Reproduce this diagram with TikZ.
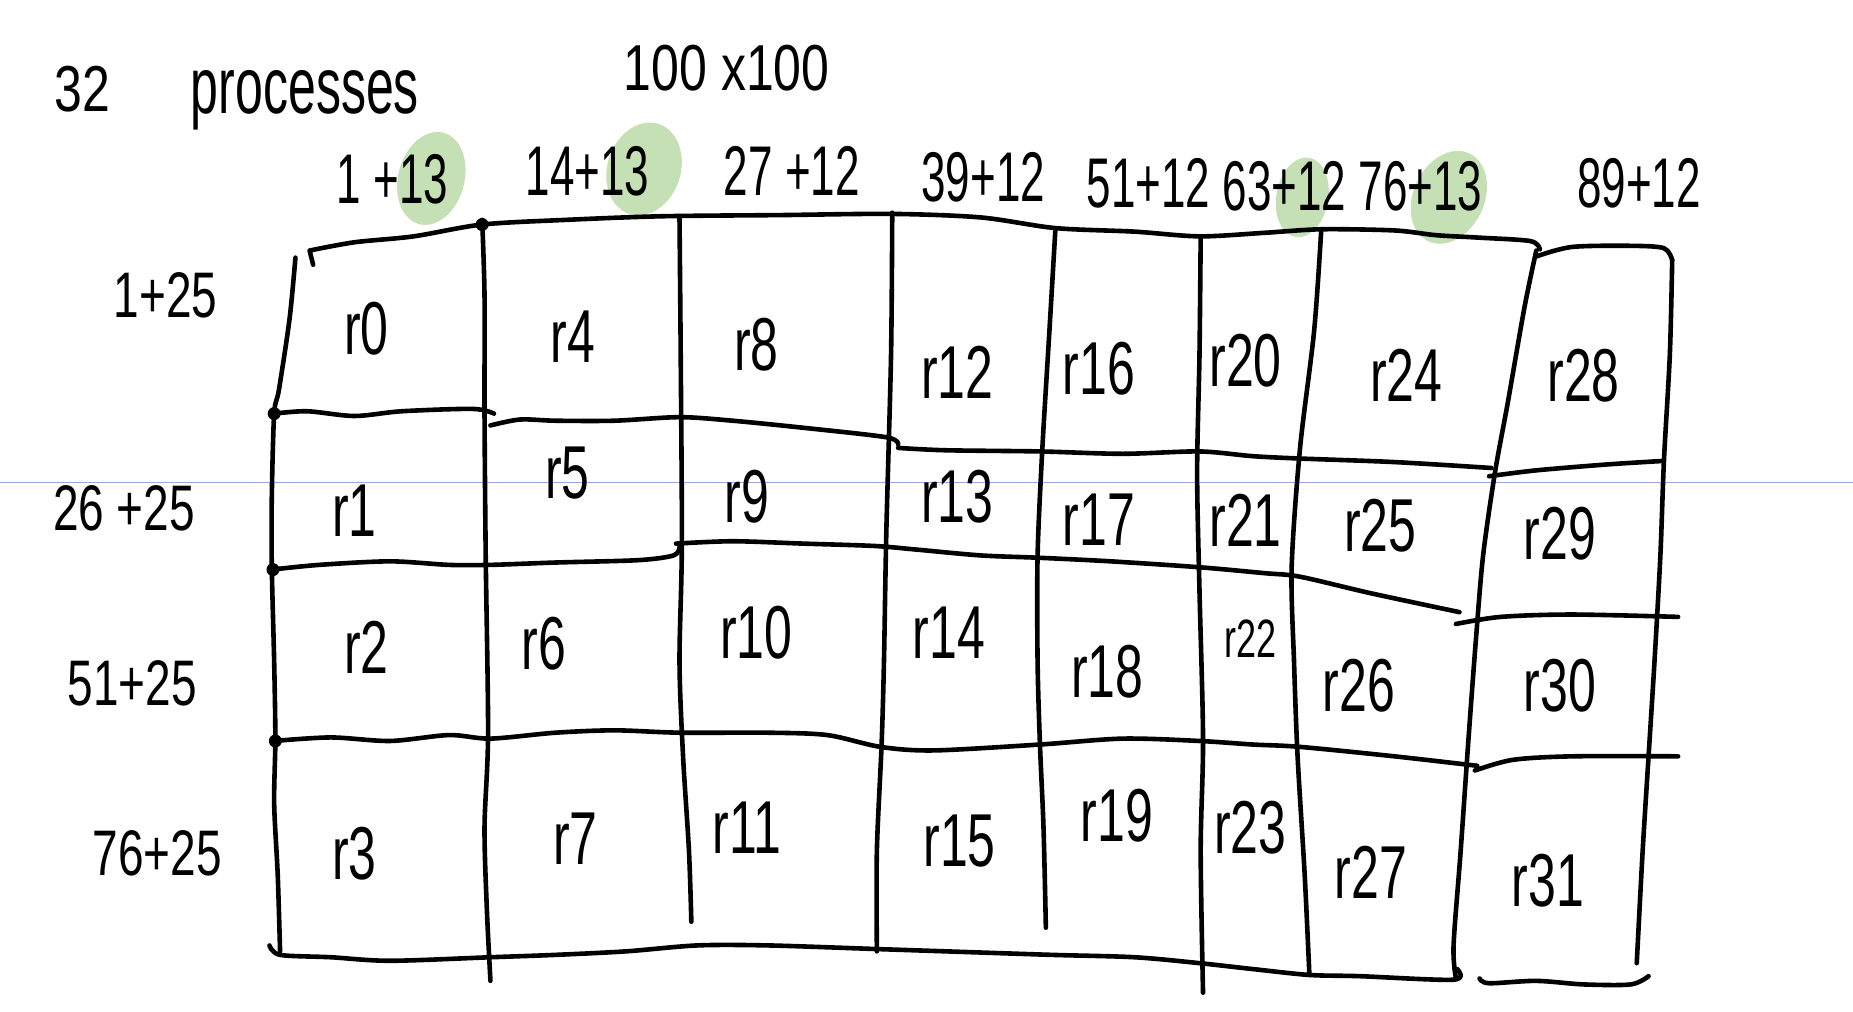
\documentclass[tikz,border=0pt]{standalone}
\usepackage{fontspec}
\setmainfont{Liberation Sans}
\definecolor{hlgreen}{RGB}{197,224,180}
\definecolor{ruleblue}{RGB}{150,170,215}
\newcommand\hwtall[2]{\scalebox{1}[#1]{#2}}
\begin{document}
\begin{tikzpicture}[x=1.1818pt,y=-1.1818pt,
  pen/.style={line width=4.6pt, line cap=round, line join=round},
  cellt/.style={font=\fontsize{50}{56}\selectfont, inner sep=0pt},
  headt/.style={font=\fontsize{44}{50}\selectfont, inner sep=0pt},
  rowt/.style={font=\fontsize{46}{52}\selectfont, inner sep=0pt},
  titlet/.style={font=\fontsize{50}{56}\selectfont, inner sep=0pt},
  hl/.style={fill=hlgreen}]
\fill[white] (0,0) rectangle (1568,856);
\useasboundingbox (0,0) rectangle (1568,856);

% faint blue ruled line
\draw[ruleblue, line width=1.3pt] (0,408) -- (1568,408);

% green highlights
\fill[hl, rotate around={-15:(365,151)}] (365,151) ellipse [x radius=28, y radius=40];
\fill[hl, rotate around={-18:(545,143)}] (545,143) ellipse [x radius=31, y radius=40];
\fill[hl, rotate around={-10:(1102,167)}] (1102,167) ellipse [x radius=22, y radius=34];
\fill[hl, rotate around={-25:(1226,167)}] (1226,167) ellipse [x radius=30, y radius=41];

% title texts
\node[titlet] (n32) at (70,75) {\hwtall{1.3}{32}};
\node[titlet] (procs) at (258,85) {\hwtall{1.6}{processes}};
\node[titlet] (size) at (615,58) {\hwtall{1.3}{100 x100}};

% column headers
\node[headt] (h0) at (332,152) {\hwtall{1.6}{1 +13}};
\node[headt] (h1) at (497,145) {\hwtall{1.6}{14+13}};
\node[headt] (h2) at (670,145) {\hwtall{1.6}{27 +12}};
\node[headt] (h3) at (832,150) {\hwtall{1.6}{39+12}};
\node[headt] (h4) at (972,155) {\hwtall{1.6}{51+12}};
\node[headt] (h5) at (1087,158) {\hwtall{1.6}{63+12}};
\node[headt] (h6) at (1202,158) {\hwtall{1.6}{76+13}};
\node[headt] (h7) at (1387,155) {\hwtall{1.6}{89+12}};

% row labels
\node[rowt] (v0) at (140,250) {\hwtall{1.4}{1+25}};
\node[rowt] (v1) at (105,430) {\hwtall{1.4}{26 +25}};
\node[rowt] (v2) at (112,578) {\hwtall{1.4}{51+25}};
\node[rowt] (v3) at (133,722) {\hwtall{1.4}{76+25}};

% ---- grid: vertical strokes ----
\draw[pen] plot[smooth] coordinates {(250,218) (245,270) (236,330) (232,350) (230,420) (230,480) (232,560) (233,625) (232,680) (235,740) (237,805)};
\draw[pen] plot[smooth] coordinates {(408,186) (410,250) (410,350) (411,470) (413,620) (410,700) (412,770) (415,830)};
\draw[pen] plot[smooth] coordinates {(575,185) (576,300) (577,460) (575,560) (578,640) (583,720) (585,780)};
\draw[pen] plot[smooth] coordinates {(755,180) (754,300) (750,450) (748,560) (746,630) (742,720) (742,805)};
\draw[pen] plot[smooth] coordinates {(893,195) (888,280) (882,380) (878,470) (878,560) (880,630) (883,700) (885,785)};
\draw[pen] plot[smooth] coordinates {(1016,200) (1015,300) (1013,400) (1015,500) (1018,625) (1016,720) (1018,840)};
\draw[pen] plot[smooth] coordinates {(1118,195) (1112,280) (1100,380) (1093,480) (1095,560) (1098,640) (1104,740) (1108,825)};
\draw[pen] plot[smooth] coordinates {(1300,212) (1290,260) (1276,340) (1265,400) (1255,470) (1249,540) (1243,620) (1236,720) (1230,800) (1232,828)};
\draw[pen] plot[smooth] coordinates {(1415,220) (1413,300) (1408,390) (1405,470) (1400,560) (1395,640) (1390,720) (1385,815)};

% ---- grid: horizontal strokes ----
% top
\draw[pen] (265,224) -- (262,212) plot[smooth] coordinates {(262,212) (300,205) (350,200) (408,190) (480,186) (560,183) (660,182) (755,181) (830,184) (893,193) (960,196) (1015,200) (1070,197) (1118,194) (1180,195) (1215,199) (1250,201) (1295,204) (1303,211)};
\draw[pen] plot[smooth] coordinates {(1300,217) (1330,209) (1380,208) (1408,210) (1415,220)};
% row line 1
\draw[pen] plot[smooth] coordinates {(232,350) (260,348) (300,352) (340,348) (400,346) (418,350)};
\draw[pen] plot[smooth] coordinates {(415,360) (440,355) (470,356) (520,356) (575,353) (620,356) (680,362) (750,370) (760,376)};
\draw[pen] plot[smooth] coordinates {(760,379) (800,381) (880,382) (950,384) (1015,382) (1060,386) (1100,388) (1180,391) (1262,396)};
\draw[pen] plot[smooth] coordinates {(1260,403) (1300,398) (1360,393) (1408,390)};
% row line 2
\draw[pen] plot[smooth] coordinates {(230,482) (270,478) (330,475) (380,478) (415,478) (470,476) (540,474) (570,470) (575,463)};
\draw[pen] plot[smooth] coordinates {(572,460) (620,458) (680,460) (740,462) (775,465) (830,470) (880,472) (940,475) (1015,480) (1070,485) (1100,488) (1160,502) (1235,518)};
\draw[pen] plot[smooth] coordinates {(1232,528) (1270,522) (1330,520) (1420,522)};
% row line 3
\draw[pen] plot[smooth] coordinates {(232,627) (280,624) (330,627) (380,622) (415,625) (470,620) (520,618) (575,620) (650,620) (700,622) (745,632) (790,635) (880,630) (950,625) (1015,627) (1060,630) (1100,632) (1180,640) (1250,648)};
\draw[pen] plot[smooth] coordinates {(1248,652) (1280,643) (1330,640) (1420,640)};
% bottom
\draw[pen] plot[smooth] coordinates {(228,800) (237,808) (280,810) (330,813) (415,810) (470,808) (530,805) (590,800) (650,800) (740,803) (800,805) (890,808) (960,810) (1015,815) (1060,820) (1108,825) (1150,826) (1230,829) (1233,820)};
\draw[pen] plot[smooth] coordinates {(1252,828) (1260,832) (1300,830) (1340,833) (1380,833) (1395,826)};

% junction blobs
\foreach \p in {(232,350),(231,482),(233,627),(408,190)}
  \fill \p circle [radius=5.5];

% ---- cell labels ----
\node[cellt] (c0) at (310,278) {\hwtall{1.5}{r0}};
\node[cellt] (c4) at (485,285) {\hwtall{1.5}{r4}};
\node[cellt] (c8) at (640,292) {\hwtall{1.5}{r8}};
\node[cellt] (c12) at (810,315) {\hwtall{1.5}{r12}};
\node[cellt] (c16) at (930,312) {\hwtall{1.5}{r16}};
\node[cellt] (c20) at (1054,305) {\hwtall{1.5}{r20}};
\node[cellt] (c24) at (1190,318) {\hwtall{1.5}{r24}};
\node[cellt] (c28) at (1340,318) {\hwtall{1.5}{r28}};

\node[cellt] (c1) at (300,432) {\hwtall{1.5}{r1}};
\node[cellt] (c5) at (480,400) {\hwtall{1.5}{r5}};
\node[cellt] (c9) at (632,420) {\hwtall{1.5}{r9}};
\node[cellt] (c13) at (810,420) {\hwtall{1.5}{r13}};
\node[cellt] (c17) at (930,440) {\hwtall{1.5}{r17}};
\node[cellt] (c21) at (1054,440) {\hwtall{1.5}{r21}};
\node[cellt] (c25) at (1168,445) {\hwtall{1.5}{r25}};
\node[cellt] (c29) at (1320,452) {\hwtall{1.5}{r29}};

\node[cellt] (c2) at (310,548) {\hwtall{1.5}{r2}};
\node[cellt] (c6) at (460,545) {\hwtall{1.5}{r6}};
\node[cellt] (c10) at (640,535) {\hwtall{1.5}{r10}};
\node[cellt] (c14) at (803,535) {\hwtall{1.5}{r14}};
\node[cellt] (c18) at (937,568) {\hwtall{1.5}{r18}};
\node[cellt, font=\fontsize{36}{40}\selectfont] (c22) at (1058,540) {\hwtall{1.5}{r22}};
\node[cellt] (c26) at (1150,580) {\hwtall{1.5}{r26}};
\node[cellt] (c30) at (1320,580) {\hwtall{1.5}{r30}};

\node[cellt] (c3) at (300,722) {\hwtall{1.5}{r3}};
\node[cellt] (c7) at (487,710) {\hwtall{1.5}{r7}};
\node[cellt] (c11) at (632,700) {\hwtall{1.5}{r11}};
\node[cellt] (c15) at (812,712) {\hwtall{1.5}{r15}};
\node[cellt] (c19) at (945,690) {\hwtall{1.5}{r19}};
\node[cellt] (c23) at (1058,700) {\hwtall{1.5}{r23}};
\node[cellt] (c27) at (1160,738) {\hwtall{1.5}{r27}};
\node[cellt] (c31) at (1310,745) {\hwtall{1.5}{r31}};
\end{tikzpicture}
\end{document}
